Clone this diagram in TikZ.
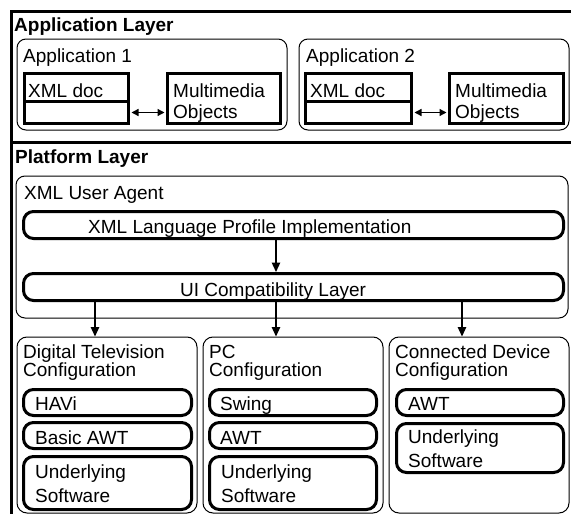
\documentclass[tikz,border=0pt]{standalone}
\usepackage{fontspec}
\setmainfont{Liberation Sans}
\usetikzlibrary{fit,arrows.meta}
\begin{document}
\begin{tikzpicture}[x=1pt,y=-1pt,
  txt/.style={font=\fontsize{19}{21}\selectfont, inner sep=0pt, anchor=base west},
  head/.style={txt, font=\fontsize{19}{21}\selectfont\bfseries},
  frame/.style={line width=3pt},
  thinbox/.style={draw, line width=1pt, rounded corners=9pt, inner sep=0pt},
  thickbox/.style={draw, line width=3pt, inner sep=0pt},
  thickround/.style={draw, line width=3pt, rounded corners=10pt, inner sep=0pt},
  arr/.style={line width=1.3pt, -{Triangle[width=8.5pt,length=9.5pt]}},
  darr/.style={line width=1.3pt, {Triangle[width=7pt,length=7pt]}-{Triangle[width=7pt,length=7pt]},
    shorten <=1.5pt, shorten >=1.5pt},
]
\useasboundingbox (0,0) rectangle (571,514);

% outer frame and layer separator
\draw[frame] (571,11) -- (11,11) -- (11,514);
\draw[frame] (11,142) -- (571,142);

% ---------- application layer ----------
\node[head] (applayer) at (14,31) {Application Layer};

\node[thinbox, fit={(17,39) (287,130)}] (app1) {};
\node[txt] (app1t) at (23,62) {Application 1};
\node[thickbox, fit={(24.5,73.5) (128.5,101.5)}] (xmlt1) {};
\node[thickbox, fit={(24.5,101.5) (128.5,123.5)}] (xmlb1) {};
\node[txt] (xmlt1t) at (28,97) {XML doc};
\node[thickbox, fit={(167.5,73.5) (280.5,123.5)}] (mm1) {};
\node[txt] (mm1a) at (173,97) {Multimedia};
\node[txt] (mm1b) at (173,118) {Objects};
\draw[darr] (xmlb1.east) -- (mm1.west |- xmlb1.east);

\node[thinbox, fit={(299,39) (569,130)}] (app2) {};
\node[txt] (app2t) at (306,62) {Application 2};
\node[thickbox, fit={(305.5,73.5) (411.5,101.5)}] (xmlt2) {};
\node[thickbox, fit={(305.5,101.5) (411.5,123.5)}] (xmlb2) {};
\node[txt] (xmlt2t) at (310,97) {XML doc};
\node[thickbox, fit={(449.5,73.5) (563.5,123.5)}] (mm2) {};
\node[txt] (mm2a) at (455,97) {Multimedia};
\node[txt] (mm2b) at (455,118) {Objects};
\draw[darr] (xmlb2.east) -- (mm2.west |- xmlb2.east);

% ---------- platform layer ----------
\node[head] (platlayer) at (15,163) {Platform Layer};

\node[thinbox, fit={(16,176) (568,318)}] (agent) {};
\node[txt] (agentt) at (24,199) {XML User Agent};
\node[thickround, fit={(23.5,211.5) (563.5,238.5)}] (xlpi) {};
\node[txt] (xlpit) at (88,233) {XML Language Profile Implementation};
\node[thickround, fit={(23.5,273.5) (563.5,300.5)}] (ui) {};
\node[txt] (uit) at (180,296) {UI Compatibility Layer};

\coordinate (xa) at (95,0);
\coordinate (xb) at (276,0);
\coordinate (xc) at (462,0);
\draw[arr] (xlpi.south -| xb) -- (ui.north -| xb);

% configurations
\node[thinbox, rounded corners=10pt, fit={(17,337) (197,513)}] (dtv) {};
\node[txt] (dtva) at (23,358) {Digital Television};
\node[txt] (dtvb) at (23,376) {Configuration};
\node[thickround, fit={(23.5,389.5) (191.5,415.5)}] (havi) {};
\node[txt] (havit) at (35,410) {HAVi};
\node[thickround, fit={(23.5,422.5) (191.5,448.5)}] (bawt) {};
\node[txt] (bawtt) at (35,444) {Basic AWT};
\node[thickround, fit={(23.5,456.5) (191.5,509.5)}] (us1) {};
\node[txt] (us1a) at (35,478) {Underlying};
\node[txt] (us1b) at (35,502) {Software};

\node[thinbox, rounded corners=10pt, fit={(203,337) (383,513)}] (pc) {};
\node[txt] (pca) at (209,358) {PC};
\node[txt] (pcb) at (209,376) {Configuration};
\node[thickround, fit={(209.5,389.5) (376.5,415.5)}] (swing) {};
\node[txt] (swingt) at (220,410) {Swing};
\node[thickround, fit={(209.5,422.5) (376.5,448.5)}] (awt1) {};
\node[txt] (awt1t) at (220,444) {AWT};
\node[thickround, fit={(209.5,456.5) (376.5,509.5)}] (us2) {};
\node[txt] (us2a) at (221,478) {Underlying};
\node[txt] (us2b) at (221,502) {Software};

\node[thinbox, rounded corners=10pt, fit={(389,337) (569,513)}] (cdc) {};
\node[txt] (cdca) at (395,358) {Connected Device};
\node[txt] (cdcb) at (395,376) {Configuration};
\node[thickround, fit={(396.5,389.5) (563.5,415.5)}] (awt2) {};
\node[txt] (awt2t) at (408,410) {AWT};
\node[thickround, fit={(396.5,423.5) (563.5,472.5)}] (us3) {};
\node[txt] (us3a) at (408,443) {Underlying};
\node[txt] (us3b) at (408,467) {Software};

\draw[arr] (ui.south -| xa) -- (dtv.north -| xa);
\draw[arr] (ui.south -| xb) -- (pc.north -| xb);
\draw[arr] (ui.south -| xc) -- (cdc.north -| xc);
\end{tikzpicture}
\end{document}
